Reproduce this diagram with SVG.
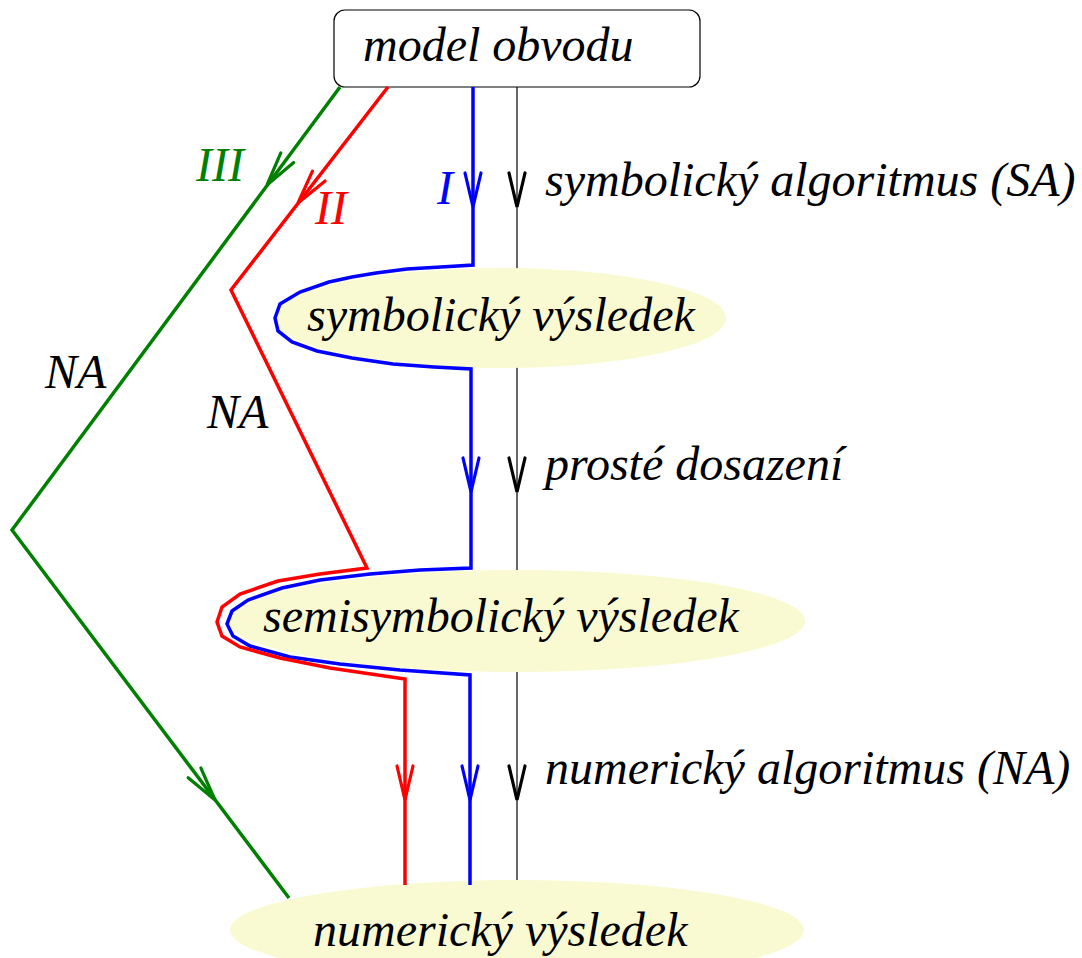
<svg xmlns="http://www.w3.org/2000/svg" xmlns:xlink="http://www.w3.org/1999/xlink" width="1082" height="958" viewBox="0 0 1082 958">
  <style>
    text { font-family: "Liberation Serif", "Times New Roman", serif; font-style: italic; font-size: 48px; fill: #000; }
    .node-box { fill: #fff; stroke: #000; stroke-width: 1.2; }
    .node-ell { fill: #fafad2; stroke: none; }
    .path { fill: none; stroke-width: 3.5; stroke-linejoin: miter; }
    .blue { stroke: #0000ff; }
    .red { stroke: #ff0000; }
    .green { stroke: #008000; }
    .guide { fill: none; stroke: #000; stroke-width: 1.2; }
    .head { fill: none; stroke-width: 3.2; stroke-linecap: round; stroke-linejoin: miter; }
  </style>
  <defs>
    <!-- open V arrowhead, tip at origin, pointing along +y -->
    <path id="v" d="M-8,-34 L0,0 L8,-34"/>
  </defs>

  <rect width="1082" height="958" fill="#fff"/>

  <!-- reference axis, drawn beneath the result nodes -->
  <g id="axis">
    <line class="guide" x1="517" y1="87" x2="517" y2="880"/>
    <g class="head" stroke="#000">
      <use xlink:href="#v" transform="translate(517,207)"/>
      <use xlink:href="#v" transform="translate(517,492)"/>
      <use xlink:href="#v" transform="translate(517,800)"/>
    </g>
  </g>

  <!-- nodes -->
  <g id="model">
    <rect class="node-box" x="334" y="10" width="366" height="77" rx="11"/>
    <text x="363" y="61">model obvodu</text>
  </g>
  <g id="symbolic">
    <ellipse class="node-ell" cx="500" cy="318" rx="226" ry="50"/>
    <text x="307" y="331">symbolický výsledek</text>
  </g>
  <g id="semisymbolic">
    <ellipse class="node-ell" cx="517" cy="621" rx="288" ry="51"/>
    <text x="263" y="632">semisymbolický výsledek</text>
  </g>
  <g id="numeric">
    <ellipse class="node-ell" cx="517" cy="930" rx="287" ry="50"/>
    <text x="313" y="946">numerický výsledek</text>
  </g>

  <!-- connectors -->
  <g id="connectors">
    <!-- path I -->
    <path class="path blue" d="M473,87 L473,265 L441,267 L407,269 L376,273 L352,277 L329,282 L300,292 L280,304 L275,318 L278,331 L292,342 L317,351 L352,358 L393,364 L434,367 L471,369 L471,568 L420,570 L370,574 L320,580 L282,588 L248,600 L232,611 L227,624 L233,636 L250,646 L290,657 L340,664 L400,670 L470,675 L470,885"/>
    <g class="head" stroke="#0000ff">
      <use xlink:href="#v" transform="translate(473,207)"/>
      <use xlink:href="#v" transform="translate(471,492)"/>
      <use xlink:href="#v" transform="translate(470,800)"/>
    </g>

    <!-- path II -->
    <path class="path red" d="M388,87 L231,290 L367,568 L320,574 L278,581 L240,594 L222,607 L217,622 L222,636 L240,647 L280,658 L330,668 L405,679 L405,885"/>
    <g class="head" stroke="#ff0000">
      <use xlink:href="#v" transform="translate(298,203) rotate(37.7)"/>
      <use xlink:href="#v" transform="translate(405,800)"/>
    </g>

    <!-- path III -->
    <path class="path green" d="M340,87 L12,530 L289,898"/>
    <g class="head" stroke="#008000">
      <use xlink:href="#v" transform="translate(267,185) rotate(36.5)"/>
      <use xlink:href="#v" transform="translate(215,800) rotate(-37)"/>
    </g>
  </g>

  <!-- labels -->
  <g id="labels">
    <text x="196" y="181" style="fill:#008000">III</text>
    <text x="315" y="224" style="fill:#ff0000">II</text>
    <text x="437" y="204" style="fill:#0000ff">I</text>
    <text x="45" y="388">NA</text>
    <text x="207" y="428">NA</text>
    <text x="545" y="196">symbolický algoritmus (SA)</text>
    <text x="545" y="480">prosté dosazení</text>
    <text x="545" y="784">numerický algoritmus (NA)</text>
  </g>
</svg>
